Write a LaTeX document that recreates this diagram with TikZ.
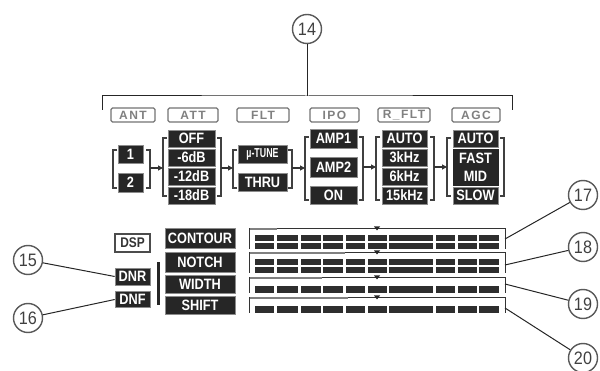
\documentclass[tikz,border=0pt]{standalone}
\usepackage{fontspec}
\setmainfont{Liberation Sans}
\newfontfamily\condb[FakeStretch=0.85]{Liberation Sans Bold}
\newfontfamily\narrb[FakeStretch=0.68]{Liberation Sans Bold}
\newfontfamily\hdrf[LetterSpace=12]{Liberation Sans Bold}
\newfontfamily\numf[FakeStretch=0.9]{Liberation Sans}
\usetikzlibrary{arrows.meta}
\begin{document}
\begin{tikzpicture}[x=1pt,y=-1pt,
 hdr/.style={draw=black!55, line width=1.3pt, rounded corners=1.5pt, fill=white, text=black!50, inner sep=0pt, minimum height=14pt, font=\hdrf\fontsize{12}{12}\selectfont},
 val/.style={fill=black!85, draw=black!45, line width=0.6pt, text=white, inner sep=0pt, font=\condb\fontsize{15}{15}\selectfont},
 brk/.style={draw=black!75, line width=1.1pt},
 arr/.style={draw=black!80, line width=1.1pt, -{Triangle[length=5pt,width=5pt]}},
 callout/.style={circle, draw=black!65, line width=1.4pt, minimum size=29pt, inner sep=0pt, fill=white, text=black!75, font=\numf\fontsize{18}{18}\selectfont},
 lead/.style={draw=black!85, line width=1pt},
 seg/.style={fill=black!82},
 barline/.style={draw=black!80, line width=1pt}
]
\useasboundingbox (0,0) rectangle (600,371);

% top callout and bracket
\node[callout] (c14) at (307,29) {14};
\coordinate (topL) at (102,110);
\coordinate (topR) at (512,110);
\coordinate (topM) at (307,96);
\draw[lead] (c14) -- (topM);
\draw[lead] (topL) |- (topM) -| (topR);

% headers
\node[hdr, minimum width=44pt] (hant) at (133,115) {ANT};
\node[hdr, minimum width=50pt] (hatt) at (193,115) {ATT};
\node[hdr, minimum width=52pt] (hflt) at (263,115) {FLT};
\node[hdr, minimum width=49pt] (hipo) at (334.5,115) {IPO};
\node[hdr, minimum width=52pt] (hrf) at (404,115) {R\_FLT};
\node[hdr, minimum width=48pt] (hagc) at (476,115) {AGC};

% ANT
\node[val, minimum width=25pt, minimum height=18pt] (ant1) at (130.5,154) {1};
\node[val, minimum width=25pt, minimum height=19pt] (ant2) at (130.5,182.5) {2};
\draw[brk] (117,150) -- (113,150) -- (113,188) -- (117,188);
\draw[brk] (146,150) -- (150,150) -- (150,188) -- (146,188);

% ATT
\node[val, minimum width=47pt, minimum height=17pt] (att1) at (191.5,138.5) {OFF};
\node[val, minimum width=47pt, minimum height=17pt] (att2) at (191.5,157.5) {-6dB};
\node[val, minimum width=47pt, minimum height=17pt] (att3) at (191.5,176.5) {-12dB};
\node[val, minimum width=47pt, minimum height=17pt] (att4) at (191.5,195.5) {-18dB};
\draw[brk] (167,138) -- (163,138) -- (163,196) -- (167,196);
\draw[brk] (217,138) -- (221,138) -- (221,196) -- (217,196);

% FLT
\node[val, minimum width=49pt, minimum height=18pt, font=\narrb\fontsize{13}{13}\selectfont] (flt1) at (262.5,154) {µ-TUNE};
\node[val, minimum width=49pt, minimum height=18pt] (flt2) at (262.5,182) {THRU};
\draw[brk] (237,150) -- (233,150) -- (233,188) -- (237,188);
\draw[brk] (288,150) -- (292,150) -- (292,188) -- (288,188);

% IPO
\node[val, minimum width=47pt, minimum height=19pt] (ipo1) at (333.5,138.5) {AMP1};
\node[val, minimum width=47pt, minimum height=20pt] (ipo2) at (333.5,167) {AMP2};
\node[val, minimum width=47pt, minimum height=18pt] (ipo3) at (333.5,195) {ON};
\draw[brk] (309,137) -- (305,137) -- (305,200) -- (309,200);
\draw[brk] (359,137) -- (363,137) -- (363,200) -- (359,200);

% R_FLT
\node[val, minimum width=45pt, minimum height=17pt] (rf1) at (404.5,138.5) {AUTO};
\node[val, minimum width=45pt, minimum height=17pt] (rf2) at (404.5,157.5) {3kHz};
\node[val, minimum width=45pt, minimum height=17pt] (rf3) at (404.5,176.5) {6kHz};
\node[val, minimum width=45pt, minimum height=17pt] (rf4) at (404.5,195.5) {15kHz};
\draw[brk] (380,137) -- (376,137) -- (376,200) -- (380,200);
\draw[brk] (430,137) -- (434,137) -- (434,200) -- (430,200);

% AGC
\node[val, minimum width=45pt, minimum height=17pt] (agc1) at (475.5,138.5) {AUTO};
\node[val, draw=black!85, minimum width=45pt, minimum height=18pt] (agc2) at (475.5,158) {FAST};
\node[val, draw=black!85, minimum width=45pt, minimum height=18pt] (agc3) at (475.5,176) {MID};
\node[val, minimum width=45pt, minimum height=17pt] (agc4) at (475.5,195.5) {SLOW};
\draw[brk] (451,138) -- (447,138) -- (447,196) -- (451,196);
\draw[brk] (500,138) -- (504,138) -- (504,196) -- (500,196);

% arrows between groups
\coordinate (antR) at (150,168); \coordinate (attL) at (163,168);
\coordinate (attR) at (221,168); \coordinate (fltL) at (233,168);
\coordinate (fltR) at (292,168); \coordinate (ipoL) at (305,168);
\coordinate (ipoR) at (363,167); \coordinate (rfL) at (376,167);
\coordinate (rfR) at (434,167); \coordinate (agcL) at (447,167);
\draw[arr] (antR) -- (attL);
\draw[arr] (attR) -- (fltL);
\draw[arr] (fltR) -- (ipoL);
\draw[arr] (ipoR) -- (rfL);
\draw[arr] (rfR) -- (agcL);

% DSP section
\node[hdr, draw=black!70, text=black!80, minimum width=35pt, minimum height=18pt, rounded corners=0pt, font=\condb\fontsize{14}{14}\selectfont] (dsp) at (132.5,243) {DSP};
\node[val, minimum width=35pt, minimum height=17pt] (dnr) at (132.5,276.5) {DNR};
\node[val, minimum width=35pt, minimum height=16pt] (dnf) at (132.5,299.5) {DNF};
\fill[black!85] (157,262) rectangle (160,305);
\node[val, minimum width=70pt, minimum height=20pt] (contour) at (200,238) {CONTOUR};
\node[val, minimum width=70pt, minimum height=20pt] (notch) at (200,262) {NOTCH};
\node[val, minimum width=70pt, minimum height=18pt] (width) at (200,284) {WIDTH};
\node[val, minimum width=70pt, minimum height=18pt] (shift) at (200,305) {SHIFT};

\node[callout] (c15) at (28,260) {15};
\node[callout] (c16) at (28,318) {16};
\draw[lead] (c15) -- (dnr.west);
\draw[lead] (c16) -- (dnf.west);

% bar graphs
\foreach \t/\b/\g in {229/249/277, 253/273/345, 278/293/322, 298/313/348} {
  \draw[barline] (249,\b) -- (249,\t) -- (505,\t) -- (505,\b);
  \draw[line width=1.5pt, black!50] (250,\t) -- (\g,\t);
  \fill[black!85] (374,\t-2.5) -- (380,\t-2.5) -- (377,\t+1.5) -- cycle;
}
\foreach \a/\c in {255/274, 277/298, 301/321, 323/343, 346/365, 368/387, 389/433, 436/455, 458/477, 479/499} {
  \foreach \y/\h in {235/241, 243/249, 259/265, 267/273, 286/293, 306/313} {
    \fill[seg] (\a,\y) rectangle (\c,\h);
  }
}

\coordinate (e17) at (505,239);
\coordinate (e18) at (505,265);
\coordinate (e19) at (505,284);
\coordinate (e20) at (505,308);
\node[callout] (c17) at (583,195) {17};
\node[callout] (c18) at (583,247) {18};
\node[callout] (c19) at (583,304) {19};
\node[callout] (c20) at (583,358) {20};
\draw[lead] (e17) -- (c17);
\draw[lead] (e18) -- (c18);
\draw[lead] (e19) -- (c19);
\draw[lead] (e20) -- (c20);
\end{tikzpicture}
\end{document}
